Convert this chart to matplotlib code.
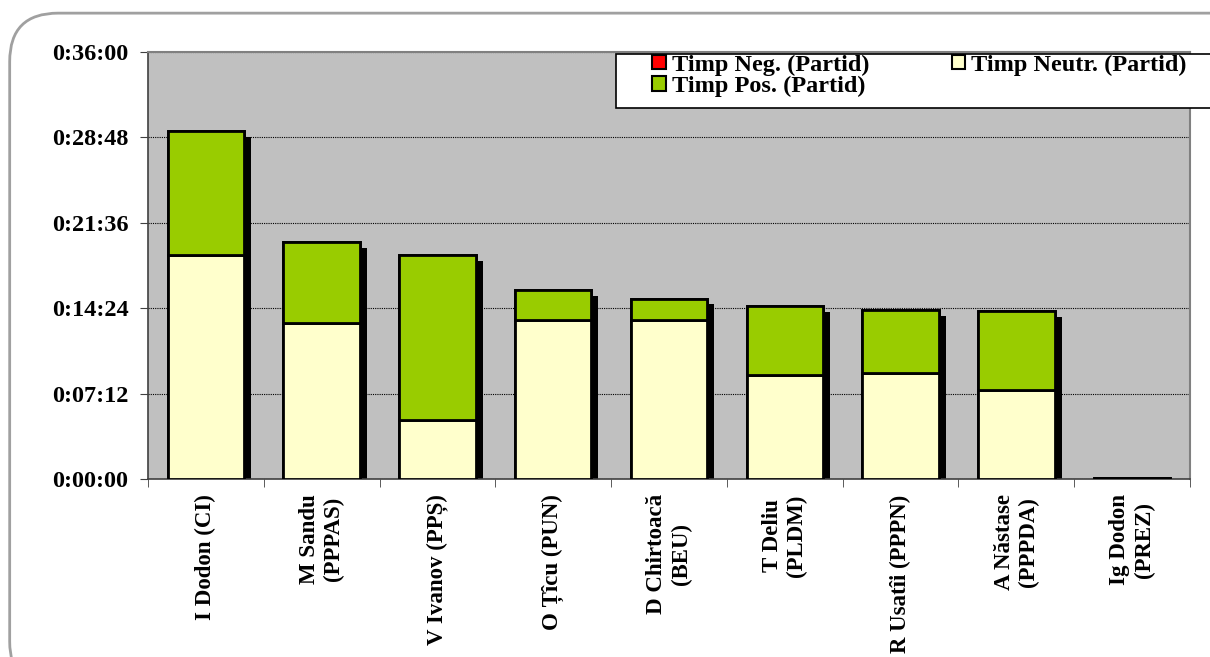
import numpy as np
import matplotlib
matplotlib.use("Agg")
import matplotlib.pyplot as plt
import matplotlib.patheffects as pe
from matplotlib.patches import FancyBboxPatch, Patch, Rectangle
from matplotlib.ticker import FixedLocator

# candidates and times in seconds
candidates = ["I Dodon (CI)", "M Sandu\n(PPPAS)", "V Ivanov (PPȘ)", "O Țîcu (PUN)",
              "D Chirtoacă\n(BEU)", "T Deliu\n(PLDM)", "R Usatîi (PPPN)",
              "A Năstase\n(PPPDA)", "Ig Dodon\n(PREZ)"]
neg_time = [0, 0, 0, 0, 0, 0, 0, 0, 0]
neutr_time = [1133, 789, 298, 804, 804, 526, 536, 450, 5]
pos_time = [627, 410, 835, 152, 107, 349, 319, 400, 0]
yticks_sec = [0, 432, 864, 1296, 1728, 2160]
ytick_labels = ["0:00:00", "0:07:12", "0:14:24", "0:21:36", "0:28:48", "0:36:00"]

plt.rcParams['font.family'] = ['Liberation Serif', 'DejaVu Serif']
plt.rcParams['font.weight'] = 'bold'

fig = plt.figure(figsize=(12.1, 6.57), dpi=100)
fig.patch.set_facecolor('white')

# rounded chart border
border = FancyBboxPatch((0.008, -0.05), 1.05, 1.03, boxstyle="round,pad=0,rounding_size=0.04",
                        transform=fig.transFigure, facecolor='white', edgecolor='#A0A0A0',
                        linewidth=2, zorder=-5, mutation_aspect=1.84)
fig.patches.append(border)

ax = fig.add_axes([0.1223, 0.2709, 0.8612, 0.65])
ax.set_facecolor('#C0C0C0')

x = np.arange(len(candidates))
w = 0.66
colors = {'neg': '#FF0000', 'neutr': '#FFFFCC', 'pos': '#99CC00'}
total = np.array(neg_time) + np.array(neutr_time) + np.array(pos_time)

# shadow from a full-height bar hidden behind the stacked segments
shadow = [pe.withSimplePatchShadow(offset=(5, -4), shadow_rgbFace='black', alpha=1.0)]
ax.bar(x, total, w, color='black', edgecolor='black', linewidth=2, zorder=2, path_effects=shadow)

ax.bar(x, neg_time, w, color=colors['neg'], edgecolor='black', linewidth=2, zorder=3)
ax.bar(x, neutr_time, w, bottom=neg_time, color=colors['neutr'], edgecolor='black',
       linewidth=2, zorder=3)
bottom_pos = np.array(neg_time) + np.array(neutr_time)
ax.bar(x, pos_time, w, bottom=bottom_pos, color=colors['pos'], edgecolor='black',
       linewidth=2, zorder=3)

ax.set_xlim(-0.5, len(candidates) - 0.5)
ax.set_ylim(0, 2160)
ax.set_yticks(yticks_sec)
ax.set_yticklabels(ytick_labels, fontsize=17.5, fontweight='bold')
ax.yaxis.grid(True, linestyle=(0, (1, 1)), color='black', linewidth=0.8, zorder=1)
ax.set_axisbelow(True)

ax.set_xticks(x)
ax.set_xticklabels(candidates, rotation=90, fontsize=16.5, fontweight='bold',
                   va='top', ha='center', linespacing=1.2)
ax.tick_params(axis='x', length=0, pad=11)
ax.xaxis.set_minor_locator(FixedLocator(np.arange(-0.5, len(candidates), 1.0)))
ax.tick_params(axis='x', which='minor', length=6, color='#404040')
ax.tick_params(axis='y', length=6, color='#404040', pad=8)

for side in ['top', 'right']:
    ax.spines[side].set_color('#808080')
    ax.spines[side].set_linewidth(1.5)
for side in ['left', 'bottom']:
    ax.spines[side].set_color('#404040')
    ax.spines[side].set_linewidth(1.2)

# legend frame running off the right edge
fig.patches.append(Rectangle((616 / 1210, 1 - 108 / 657), 0.6, 54 / 657,
                             transform=fig.transFigure, facecolor='white',
                             edgecolor='black', linewidth=1.2, zorder=5))

handles = [Patch(facecolor=colors['neg'], edgecolor='black', linewidth=1.5),
           Patch(facecolor=colors['pos'], edgecolor='black', linewidth=1.5),
           Patch(facecolor=colors['neutr'], edgecolor='black', linewidth=1.5)]
leg = fig.legend(handles, ['Timp Neg. (Partid)', 'Timp Pos. (Partid)', 'Timp Neutr. (Partid)'],
                 ncol=2, loc='upper left', bbox_to_anchor=(650 / 1210, 1 - 52 / 657),
                 prop={'family': 'Liberation Serif', 'weight': 'bold', 'size': 17.5},
                 frameon=False, handlelength=0.55, handleheight=0.55, handletextpad=0.25,
                 labelspacing=0.0, columnspacing=3.4, borderpad=0.1, borderaxespad=0)
leg.set_zorder(6)

fig.savefig('out.png', dpi=100)
